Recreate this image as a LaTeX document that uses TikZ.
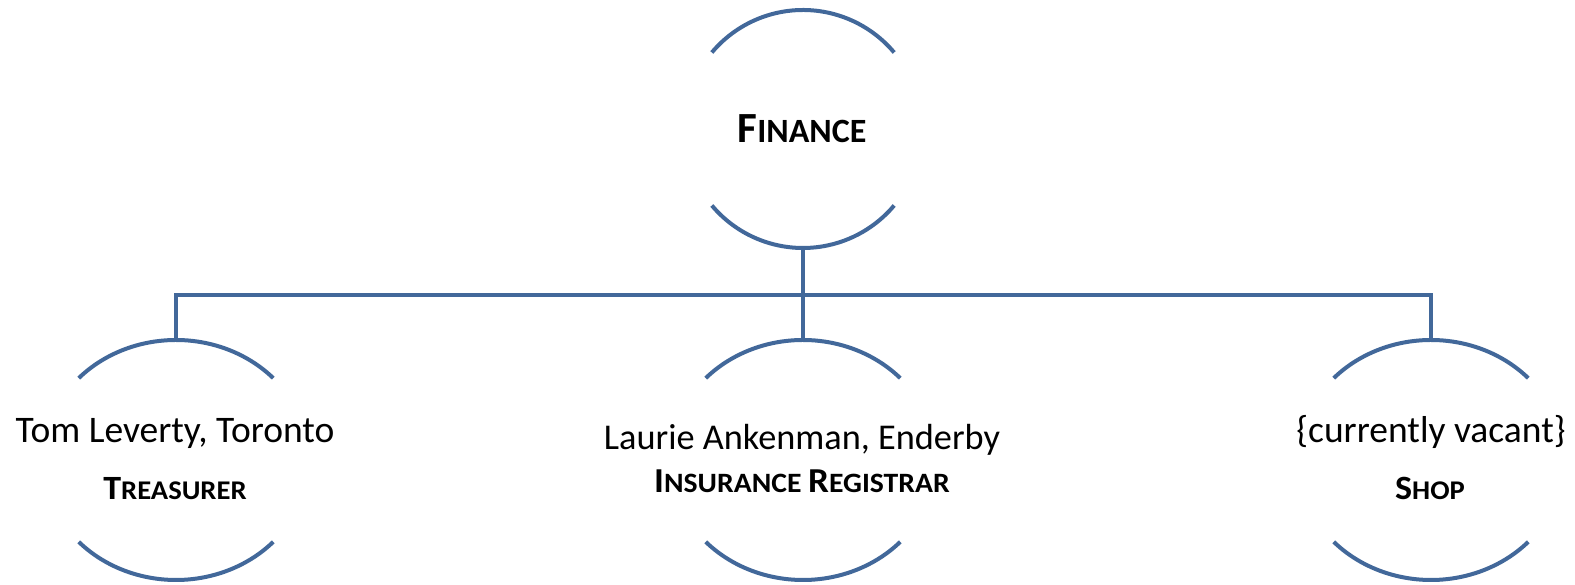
\documentclass[tikz,border=0pt]{standalone}
\usepackage{fontspec}
\setmainfont{Carlito}
\usetikzlibrary{calc}
\definecolor{lineblue}{RGB}{66,104,154}
\newcommand{\fsz}[1]{\fontsize{#1}{#1}\selectfont}
\begin{document}
\begin{tikzpicture}[x=1pt,y=1pt,
  shapebox/.style={draw=none,inner sep=0pt,outer sep=0pt,minimum width=#1,minimum height=240},
  conn/.style={draw=lineblue,line width=4pt},
  arcline/.style={draw=lineblue,line width=4pt},
  txt/.style={anchor=base,inner sep=0pt,text=black}]
\useasboundingbox (0,0) rectangle (1575,585);
% shape nodes
\node[shapebox=238,minimum height=238] (fin) at (803,456) {};
\node[shapebox=266] (tre) at (176,125) {};
\node[shapebox=266] (ins) at (803,125) {};
\node[shapebox=266] (shop) at (1431,125) {};
% arcs
\draw[arcline] ($(fin.center)+(140:119 and 119)$) arc[start angle=140,end angle=40,x radius=119,y radius=119];
\draw[arcline] ($(fin.center)+(220:119 and 119)$) arc[start angle=220,end angle=320,x radius=119,y radius=119];
\foreach \n in {tre,ins,shop}{
  \draw[arcline] ($(\n.center)+(137:133 and 120)$) arc[start angle=137,end angle=43,x radius=133,y radius=120];
  \draw[arcline] ($(\n.center)+(223:133 and 120)$) arc[start angle=223,end angle=317,x radius=133,y radius=120];
}
% connectors
\coordinate (bus) at (803,290);
\draw[conn] (fin.south) -- (ins.north);
\draw[conn] (tre.north) -- (tre.north |- bus) -- (shop.north |- bus) -- (shop.north);
% texts
\node[txt] (fint) at (802,442) {\bfseries\fsz{43}F\fsz{34}INANCE};
\node[txt] (tre1) at (175,142) {\fsz{37.5}Tom Leverty, Toronto};
\node[txt,xscale=1.06] (tre2) at (175,85) {\bfseries\fsz{34}T\fsz{27}REASURER};
\node[txt] (ins1) at (802,135) {\fsz{36.3}Laurie Ankenman, Enderby};
\node[txt,xscale=1.06] (ins2) at (802,92) {\bfseries\fsz{35}I\fsz{28}NSURANCE \fsz{35}R\fsz{28}EGISTRAR};
\node[txt] (shop1) at (1431,142) {\fsz{37.5}\{currently vacant\}};
\node[txt,xscale=1.06] (shop2) at (1430,85) {\bfseries\fsz{34}S\fsz{27}HOP};
\end{tikzpicture}
\end{document}
